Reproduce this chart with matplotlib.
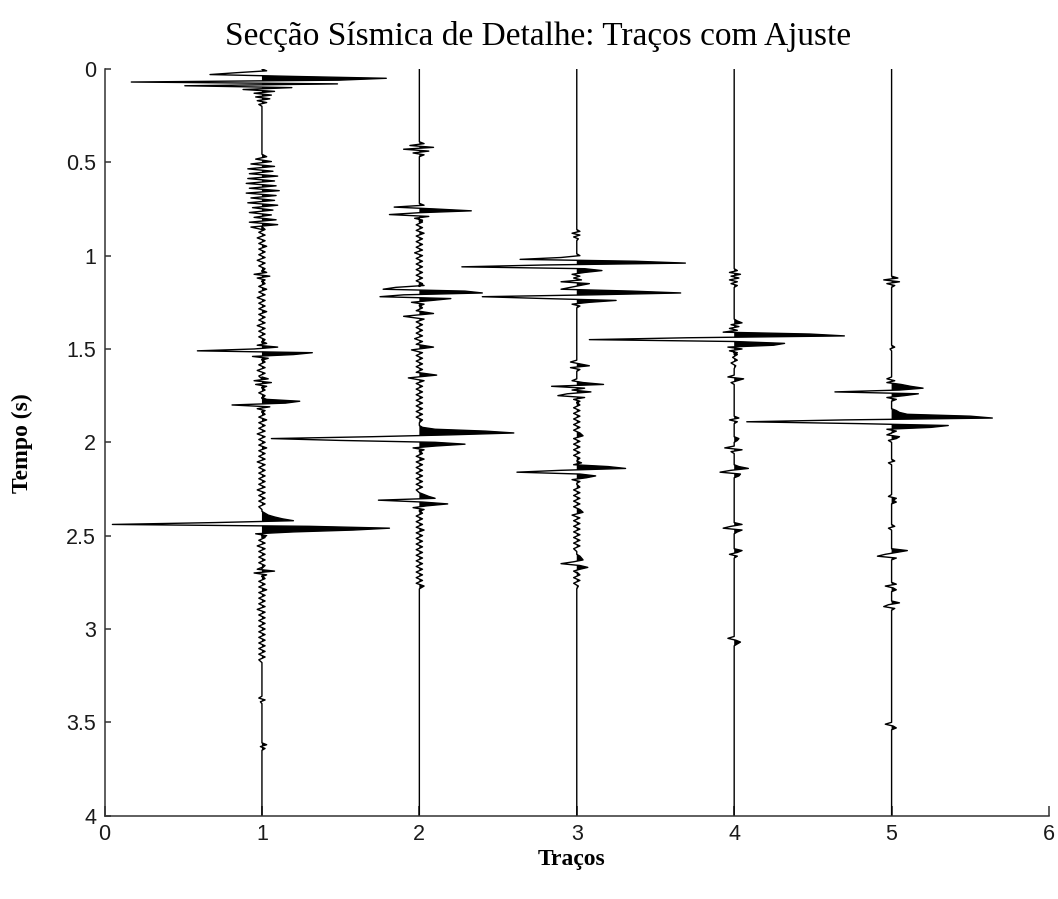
import numpy as np
import matplotlib
matplotlib.use("Agg")
import matplotlib.pyplot as plt

# Seismic wiggle data: (start time s, sample step s, amplitudes in trace units)
trace_positions = [1, 2, 3, 4, 5]

trace1_events = [
    (0.01, 0.01, [0.03, -0.16, -0.33, 0.2, 0.79, 0.49, -0.83, 0.48, -0.49, 0.19, -0.12, 0.08,
                  -0.05, 0.06, -0.04, 0.05, -0.03, 0.03, -0.02]),
    (0.47, 0.013, [0.03, -0.04, 0.06, -0.07, 0.08, -0.09, 0.07, -0.08, 0.1, -0.09, 0.08, -0.1,
                   0.09, -0.08, 0.11, -0.1, 0.09, -0.07, 0.08, -0.09, 0.1, -0.06, 0.07, -0.08,
                   0.06, -0.05, 0.09, -0.08, 0.1, -0.07]),
    (0.86, 0.015, [0.02, -0.02, 0.02, -0.03, 0.02, -0.02, 0.03, -0.02, 0.02, -0.02, 0.02, -0.03,
                   0.02, -0.02, 0.02]),
    (1.09, 0.01, [0.03, -0.05, 0.05, -0.03, 0.02]),
    (1.15, 0.015, [0.02, -0.02, 0.03, -0.02, 0.02, -0.03, 0.02, -0.02, 0.02, -0.02, 0.03, -0.02,
                   0.02, -0.02, 0.02, -0.03, 0.02, -0.02, 0.02, -0.02, 0.02]),
    (1.47, 0.01, [0.03, -0.03, 0.1, -0.05, -0.41, 0.32, 0.2, -0.06, 0.04]),
    (1.57, 0.015, [0.02, -0.02, 0.02, -0.03, 0.02, -0.02]),
    (1.66, 0.01, [0.04, -0.05, 0.06, -0.04, 0.03]),
    (1.72, 0.015, [0.02, -0.02, 0.02]),
    (1.77, 0.01, [0.03, 0.24, 0.15, -0.19, 0.05, -0.03, 0.02]),
    (1.85, 0.015, [0.02, -0.02, 0.03, -0.02, 0.02, -0.02, 0.02, -0.03, 0.02, -0.02, 0.02, -0.02,
                   0.03, -0.02, 0.02, -0.02, 0.02, -0.03, 0.02, -0.02, 0.02, -0.02, 0.02, -0.02,
                   0.02, -0.02, 0.02, -0.03, 0.02, -0.02, 0.02, -0.02, 0.02, -0.02]),
    (2.38, 0.01, [0.02, 0.04, 0.08, 0.13, 0.2, -0.3, -0.95, 0.3, 0.81, 0.58, 0.2, -0.04, 0.03]),
    (2.51, 0.015, [0.02, -0.02, 0.02, -0.03, 0.02, -0.02, 0.02, -0.02, 0.02, -0.02, 0.02]),
    (2.68, 0.01, [-0.03, 0.08, -0.05, 0.03]),
    (2.73, 0.015, [0.02, -0.02, 0.02, -0.02, 0.03, -0.02, 0.02, -0.02, 0.02, -0.02, 0.02, -0.03,
                   0.02, -0.02, 0.02, -0.02, 0.02, -0.02, 0.02, -0.02, 0.02, -0.02, 0.02, -0.02,
                   0.02, -0.02, 0.02, -0.02, 0.02, -0.02]),
    (3.37, 0.01, [-0.02, 0.02, -0.01]),
    (3.62, 0.01, [0.03, -0.01, 0.02]),
]

trace2_events = [
    (0.40, 0.01, [0.03, -0.06, 0.09, -0.1, 0.06, -0.04, 0.03]),
    (0.73, 0.01, [0.03, -0.16, 0.1, 0.33, 0.0, -0.19, 0.06, -0.03, 0.02]),
    (0.82, 0.015, [0.02, -0.02, 0.02, -0.02, 0.03, -0.02, 0.02, -0.02, 0.02, -0.02, 0.02, -0.03,
                   0.02, -0.02, 0.02, -0.02, 0.02, -0.02, 0.02, -0.02, 0.02, -0.02, 0.02]),
    (1.16, 0.01, [0.03, -0.15, -0.23, 0.29, 0.4, -0.1, -0.25, 0.2, 0.08, -0.05, 0.03]),
    (1.28, 0.015, [0.02, -0.02, 0.09, -0.1, 0.03, -0.02, 0.02, -0.02, 0.02, -0.02, 0.02, -0.03,
                   0.02, -0.02, 0.09, -0.05, 0.02, -0.02, 0.02, -0.02, 0.02, -0.02, 0.02, -0.02,
                   0.11, -0.07, 0.03, -0.02, 0.02, -0.02, 0.02, -0.02, 0.02, -0.02, 0.02, -0.02,
                   0.02, -0.02, 0.02, -0.02, 0.02]),
    (1.92, 0.01, [0.02, 0.1, 0.42, 0.6, 0.2, -0.3, -0.94, -0.5, 0.1, 0.29, 0.1, -0.04, 0.03]),
    (2.06, 0.015, [0.02, -0.02, 0.03, -0.02, 0.02, -0.02, 0.02, -0.02, 0.02, -0.02, 0.02, -0.02,
                   0.02, -0.02]),
    (2.28, 0.01, [0.03, 0.06, 0.1, -0.26, 0.02, 0.18, 0.05, -0.04, 0.03]),
    (2.38, 0.015, [0.02, -0.02, 0.02, -0.02, 0.02, -0.02, 0.03, -0.02, 0.02, -0.02, 0.02, -0.02,
                   0.02, -0.02, 0.02, -0.02, 0.02, -0.02, 0.02, -0.02, 0.02, -0.02, 0.02, -0.02,
                   0.02, -0.02, 0.03]),
]

trace3_events = [
    (0.87, 0.01, [0.02, -0.03, 0.02, -0.02, 0.01]),
    (1.00, 0.01, [0.02, -0.1, -0.36, 0.37, 0.69, -0.2, -0.73, 0.05, 0.16, 0.05, -0.03, 0.02, -0.02,
                  0.03, -0.1, 0.08, 0.02, -0.04, -0.1, 0.35, 0.66, 0.1, -0.6, -0.2, 0.25, 0.08,
                  -0.03, 0.02]),
    (1.57, 0.01, [-0.04, 0.02, 0.08, -0.04, 0.02]),
    (1.67, 0.01, [-0.03, 0.04, 0.17, -0.16, 0.05, -0.03, 0.09, -0.06, -0.12, 0.05, -0.02, 0.02]),
    (1.80, 0.015, [0.02, -0.02, 0.02, -0.02, 0.02, -0.02, 0.02, -0.02, 0.02, -0.02, 0.02, 0.04,
                   -0.02, 0.02, -0.02, 0.02, -0.02, 0.02, -0.02, 0.02]),
    (2.11, 0.01, [0.03, -0.02, 0.2, 0.31, -0.1, -0.38, 0.02, 0.12, 0.06, -0.03, 0.02]),
    (2.24, 0.015, [0.02, -0.02, 0.02, -0.02, 0.02, -0.02, 0.02, -0.02, 0.02, 0.04, -0.03, 0.02,
                   -0.02, 0.02, -0.02, 0.02, -0.02, 0.02, -0.02, 0.02, -0.02, 0.02, -0.02]),
    (2.61, 0.01, [0.02, 0.03, 0.04, -0.02, -0.1, 0.02, 0.07, 0.02, -0.02]),
    (2.71, 0.015, [0.02, -0.02, 0.02, -0.02, 0.01]),
]

trace4_events = [
    (1.08, 0.01, [0.02, -0.03, 0.04, -0.02, 0.03, -0.03, 0.02, -0.02, 0.02]),
    (1.35, 0.01, [0.02, 0.05, -0.02, 0.03, -0.03, 0.02, -0.07, 0.48, 0.7, -0.3, -0.92, 0.0, 0.32,
                  0.25, -0.04, 0.05, -0.03, 0.02]),
    (1.53, 0.015, [0.02, -0.01, 0.02, -0.02, 0.01]),
    (1.65, 0.01, [-0.04, 0.06, 0.02, -0.02]),
    (1.87, 0.01, [0.03, -0.03, 0.02]),
    (1.98, 0.01, [0.03, 0.02]),
    (2.03, 0.01, [-0.06, 0.05, -0.02]),
    (2.13, 0.01, [0.03, 0.09, -0.02, -0.09, 0.04, 0.03]),
    (2.44, 0.01, [0.05, -0.02, -0.07, 0.05, 0.02]),
    (2.58, 0.01, [0.05, 0.02, -0.03, 0.02]),
    (3.05, 0.01, [-0.04, 0.01, 0.04, 0.02]),
]

trace5_events = [
    (1.12, 0.01, [0.04, -0.05, 0.05, -0.03, 0.02]),
    (1.49, 0.01, [0.02, -0.01]),
    (1.66, 0.01, [-0.03, 0.02, -0.03, 0.06, 0.12, 0.2, 0.05, -0.36, 0.17, 0.08, -0.03, 0.03]),
    (1.83, 0.01, [0.03, 0.05, 0.1, 0.5, 0.64, -0.3, -0.92, -0.2, 0.36, 0.25, -0.03, 0.03]),
    (1.96, 0.01, [-0.03, 0.05, 0.03, -0.02]),
    (2.10, 0.01, [0.02, -0.02]),
    (2.29, 0.01, [-0.02, 0.03, 0.01, 0.03]),
    (2.45, 0.01, [0.02, -0.02]),
    (2.58, 0.01, [0.1, 0.03, -0.04, -0.09, 0.03]),
    (2.76, 0.01, [0.03, -0.04, 0.01, 0.03]),
    (2.86, 0.01, [0.05, -0.02, -0.05, 0.02]),
    (3.51, 0.01, [-0.04, 0.01, 0.03]),
]

all_events = [trace1_events, trace2_events, trace3_events, trace4_events, trace5_events]

t_max = 4.0
y_ticks = [0, 0.5, 1, 1.5, 2, 2.5, 3, 3.5, 4]
y_tick_labels = ["0", "0.5", "1", "1.5", "2", "2.5", "3", "3.5", "4"]
x_ticks = [0, 1, 2, 3, 4, 5, 6]


def build_trace(events):
    ts = [0.0]
    xs = [0.0]
    for t0, dt, amps in events:
        tt = [t0 + dt * i for i in range(len(amps))]
        ts += [t0 - dt] + tt + [tt[-1] + dt]
        xs += [0.0] + list(amps) + [0.0]
    ts.append(t_max)
    xs.append(0.0)
    return np.array(ts), np.array(xs)


fig = plt.figure(figsize=(10.58, 8.99), dpi=100)
ax = fig.add_axes([0.0988, 0.0927, 0.8927, 0.8306])

for pos, events in zip(trace_positions, all_events):
    t, a = build_trace(events)
    ax.fill_betweenx(t, pos, pos + a, where=a > 0, interpolate=True, color="black", lw=0)
    ax.plot(pos + a, t, color="black", lw=1.0)

ax.set_xlim(0, 6)
ax.set_ylim(t_max, 0)
ax.set_xticks(x_ticks)
ax.set_xticklabels([str(v) for v in x_ticks])
ax.set_yticks(y_ticks)
ax.set_yticklabels(y_tick_labels)

for side in ["top", "right"]:
    ax.spines[side].set_visible(False)
for side in ["left", "bottom"]:
    ax.spines[side].set_color("#333333")
    ax.spines[side].set_linewidth(1.1)

ax.tick_params(axis="both", direction="in", colors="#333333", labelcolor="#1a1a1a",
               labelsize=15.5, width=1.1)
ax.tick_params(axis="x", length=7, pad=6)
ax.tick_params(axis="y", length=4.5, pad=6)
for lab in ax.get_xticklabels() + ax.get_yticklabels():
    lab.set_fontfamily("Liberation Sans")

fig.text(538 / 1058, 1 - 36 / 899, "Secção Sísmica de Detalhe: Traços com Ajuste",
         ha="center", va="center", fontsize=24, family="Liberation Serif")
fig.text(572 / 1058, 1 - 860 / 899, "Traços", ha="center", va="center",
         fontsize=17, fontweight="bold", family="Liberation Serif")
fig.text(22 / 1058, 1 - 443 / 899, "Tempo (s)", ha="center", va="center", rotation=90,
         fontsize=17, fontweight="bold", family="Liberation Serif")

fig.savefig("out.png", dpi=100, facecolor="white")
